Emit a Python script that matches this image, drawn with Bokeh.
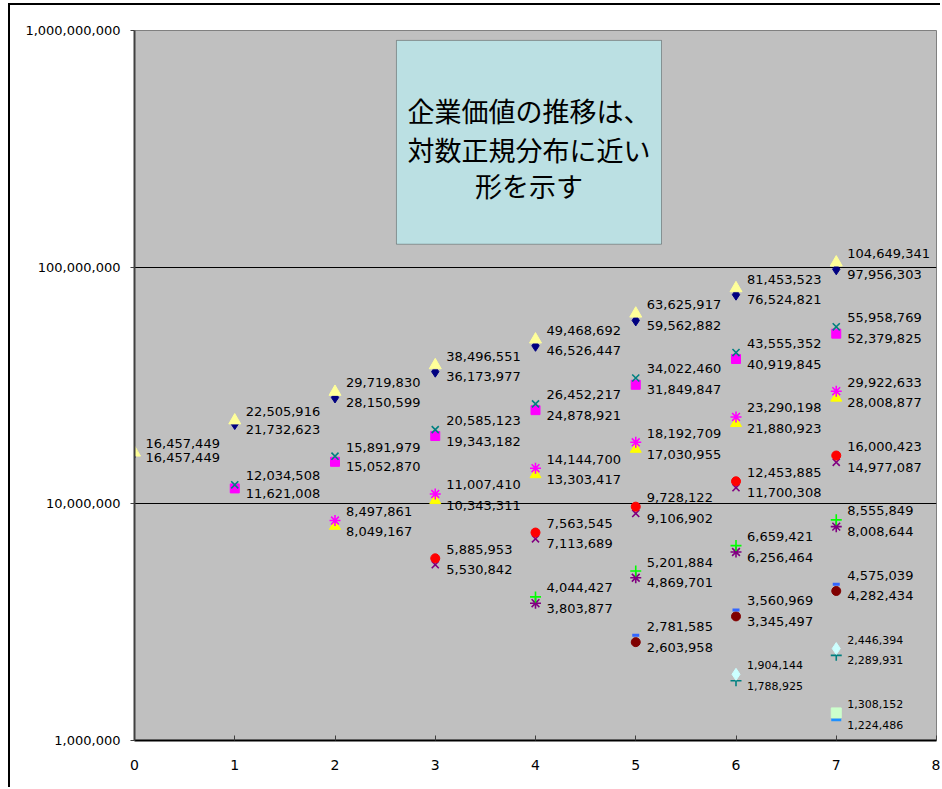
from bokeh.plotting import figure
from bokeh.models import ColumnDataSource, FixedTicker, BoxAnnotation, Label, NumeralTickFormatter
from bokeh.core.properties import value
from bokeh.embed import file_html
from bokeh.resources import INLINE

# Binomial tree of enterprise value; level j = number of down moves, nodes start at step t=j
steps = [0, 1, 2, 3, 4, 5, 6, 7]
x_ticks = [0, 1, 2, 3, 4, 5, 6, 7, 8]
y_ticks = [1_000_000, 10_000_000, 100_000_000, 1_000_000_000]

upper_j0 = [16457449, 22505916, 29719830, 38496551, 49468692, 63625917, 81453523, 104649341]
lower_j0 = [16457449, 21732623, 28150599, 36173977, 46526447, 59562882, 76524821, 97956303]
upper_j1 = [12034508, 15891979, 20585123, 26452217, 34022460, 43555352, 55958769]
lower_j1 = [11621008, 15052870, 19343182, 24878921, 31849847, 40919845, 52379825]
upper_j2 = [8497861, 11007410, 14144700, 18192709, 23290198, 29922633]
lower_j2 = [8049167, 10343311, 13303417, 17030955, 21880923, 28008877]
upper_j3 = [5885953, 7563545, 9728122, 12453885, 16000423]
lower_j3 = [5530842, 7113689, 9106902, 11700308, 14977087]
upper_j4 = [4044427, 5201884, 6659421, 8555849]
lower_j4 = [3803877, 4869701, 6256464, 8008644]
upper_j5 = [2781585, 3560969, 4575039]
lower_j5 = [2603958, 3345497, 4282434]
upper_j6 = [1904144, 2446394]
lower_j6 = [1788925, 2289931]
upper_j7 = [1308152]
lower_j7 = [1224486]

uppers = [upper_j0, upper_j1, upper_j2, upper_j3, upper_j4, upper_j5, upper_j6, upper_j7]
lowers = [lower_j0, lower_j1, lower_j2, lower_j3, lower_j4, lower_j5, lower_j6, lower_j7]

note_lines = ["企業価値の推移は、", "対数正規分布に近い", "形を示す"]

# marker styles per level: (marker, colour, size)
style_upper = [
    ("triangle", "#FFFF99", 12),
    ("x", "#008080", 10),
    ("asterisk", "#FF00FF", 11),
    ("circle", "#FF0000", 9),
    ("cross", "#00FF00", 11),
    ("dash", "#3366FF", 7),
    ("diamond", "#CCFFFF", 12),
    ("square", "#CCFFCC", 10),
]
style_lower = [
    ("diamond", "#000080", 11),
    ("square", "#FF00FF", 9),
    ("triangle", "#FFFF00", 11),
    ("x", "#800080", 10),
    ("asterisk", "#800080", 11),
    ("circle", "#800000", 9),
    ("cross", "#008080", 11),
    ("dash", "#1E90FF", 10),
]
filled = {"triangle", "diamond", "square", "circle"}

p = figure(width=932, height=784, y_axis_type="log",
           x_range=(0, 8), y_range=(1e6, 1e9),
           output_backend="svg", toolbar_location=None,
           min_border_left=124, min_border_right=6, min_border_top=25, min_border_bottom=49,
           background_fill_color="#C0C0C0", border_fill_color="white",
           outline_line_color="#808080", outline_line_width=1,
           styles={"margin-left": "8px", "margin-top": "3px",
                   "border-left": "2px solid black", "border-top": "2px solid black"})

p.xgrid.visible = False
p.ygrid.ticker = FixedTicker(ticks=y_ticks)
p.ygrid.grid_line_color = "black"
p.ygrid.grid_line_width = 1

p.yaxis.ticker = FixedTicker(ticks=y_ticks, minor_ticks=[])
p.yaxis.formatter = NumeralTickFormatter(format="0,0")
p.yaxis.axis_line_color = "#404040"
p.yaxis.axis_line_width = 2
p.yaxis.major_tick_out = 4
p.yaxis.major_tick_in = 0
p.yaxis.major_tick_line_color = "#404040"
p.yaxis.major_label_standoff = 10
p.yaxis.major_label_text_font = "DejaVu Sans"
p.yaxis.major_label_text_font_size = "13px"
p.yaxis.major_label_text_color = "black"

p.xaxis.ticker = FixedTicker(ticks=x_ticks, minor_ticks=[])
p.xaxis.axis_line_color = "black"
p.xaxis.axis_line_width = 2
p.xaxis.major_tick_out = 0
p.xaxis.major_tick_in = 5
p.xaxis.major_tick_line_color = "#404040"
p.xaxis.major_label_standoff = 19
p.xaxis.major_label_text_font = "DejaVu Sans"
p.xaxis.major_label_text_font_size = "14px"
p.xaxis.major_label_text_color = "black"

for j in range(8):
    xs = steps[j:]
    for vals, (mk, col, sz), yoff in ((lowers[j], style_lower[j], 5),
                                      (uppers[j], style_upper[j], -9)):
        src = ColumnDataSource(dict(x=xs, y=vals, label=[f"{v:,}" for v in vals]))
        kw = dict(marker=mk, size=sz, line_color=col)
        if mk in filled:
            kw.update(fill_color=col, line_width=1)
        else:
            kw.update(line_width=3 if mk == "dash" else 1.6)
        p.scatter("x", "y", source=src, **kw)
        p.text("x", "y", text="label", source=src, x_offset=11, y_offset=yoff,
               text_font=value("DejaVu Sans"),
               text_font_size="11px" if j >= 6 else "13px",
               text_color="black", text_baseline="middle", text_align="left")

box = BoxAnnotation(left=2.613, right=5.257, bottom=1.25e8, top=9.08e8,
                    fill_color="#BBE0E3", fill_alpha=1.0, line_color="black", line_width=1)
p.add_layout(box)
for txt, yv in zip(note_lines, [4.6e8, 3.15e8, 2.22e8]):
    p.add_layout(Label(x=3.935, y=yv, text=txt, text_font="Noto Sans CJK JP",
                       text_font_size="27px", text_align="center", text_baseline="middle",
                       text_color="black"))

open("out.html", "w").write(file_html(p, INLINE))
